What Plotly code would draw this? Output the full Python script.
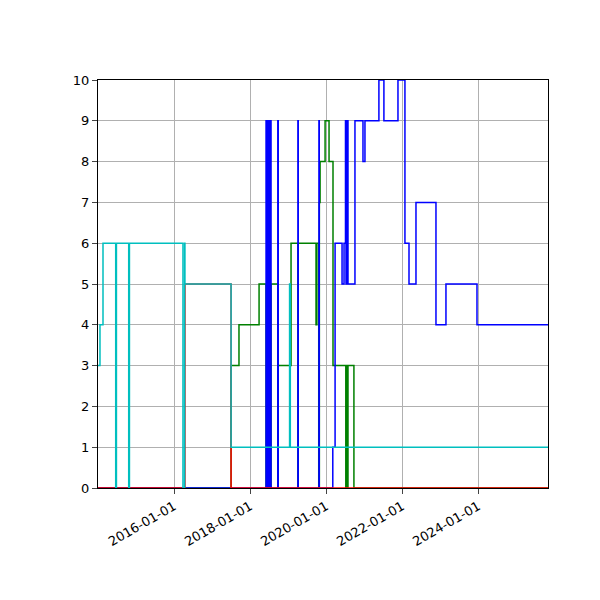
import plotly.graph_objects as go

red_x = ["2014-01-01", "2016-04-15", "2017-07-02", "2025-11-01"]
red_y = [0, 5, 0, 0]

cyan_x = ["2014-01-01", "2014-01-20", "2014-02-18", "2014-06-20", "2014-06-27",
          "2014-10-23", "2014-10-30", "2016-03-27", "2016-04-12", "2016-04-15",
          "2017-07-02", "2019-01-15", "2019-01-22", "2025-11-01"]
cyan_y = [3, 4, 6, 0, 6, 0, 6, 0, 6, 5, 1, 5, 1, 1]

green_x = ["2014-01-01", "2017-07-02", "2017-09-16", "2018-03-28", "2018-06-03",
           "2018-06-10", "2018-06-17", "2018-06-24", "2018-07-01", "2018-07-08",
           "2018-07-14", "2018-07-21", "2018-09-24", "2018-09-28", "2019-01-29",
           "2019-04-05", "2019-04-08", "2019-09-26", "2019-10-04", "2019-10-22",
           "2019-10-28", "2019-11-04", "2019-12-22", "2020-01-29", "2020-03-07",
           "2020-03-27", "2020-07-08", "2020-07-13", "2020-07-20", "2020-07-29",
           "2020-09-24", "2025-11-01"]
green_y = [0, 3, 4, 5, 0, 5, 0, 5, 0, 5, 0, 5, 0, 3, 6,
           0, 6, 4, 6, 0, 7, 8, 9, 8, 3,
           3, 0, 3, 0, 3, 0, 0]

blue_x = ["2014-01-01", "2018-06-03", "2018-06-10", "2018-06-17", "2018-06-24",
          "2018-07-01", "2018-07-08", "2018-07-14", "2018-07-21", "2018-09-24",
          "2018-09-28", "2019-04-05", "2019-04-08", "2019-10-24", "2019-10-27",
          "2020-03-05", "2020-03-27", "2020-06-02", "2020-06-21", "2020-07-05",
          "2020-07-10", "2020-07-18", "2020-07-29", "2020-10-04", "2020-12-20",
          "2021-01-08", "2021-05-22", "2021-07-09", "2021-11-21", "2022-01-27",
          "2022-03-07", "2022-05-13", "2022-11-21", "2023-02-25", "2023-12-20",
          "2025-11-01"]
blue_y = [0, 9, 0, 9, 0, 9, 0, 9, 0, 9, 0, 9, 0, 9, 0,
          1, 6, 5, 6, 9, 5, 9, 5, 9, 8,
          9, 10, 9, 10, 6, 5, 7, 4, 5, 4, 4]

tick_vals = ["2016-01-01", "2018-01-01", "2020-01-01", "2022-01-01", "2024-01-01"]

fig = go.Figure()
for xs, ys, col in [(green_x, green_y, "green"), (blue_x, blue_y, "blue"),
                    (red_x, red_y, "red"), (cyan_x, cyan_y, "#00bfbf")]:
    fig.add_trace(go.Scatter(x=xs, y=ys, mode="lines", line=dict(color=col, width=1.5, shape="hv"),
                             showlegend=False, cliponaxis=False))

fig.update_layout(
    width=600, height=600,
    paper_bgcolor="white", plot_bgcolor="white",
    font=dict(family="DejaVu Sans", size=13, color="black"),
    margin=dict(l=90, r=60, t=72, b=120),
)
fig.update_xaxes(
    range=["2014-01-01", "2025-11-01"], tickvals=tick_vals, ticktext=tick_vals,
    tickangle=-30, showgrid=True, gridcolor="#b0b0b0", showline=True, linecolor="black",
    mirror=True, ticks="outside", zeroline=False, automargin=False,
)
fig.update_yaxes(
    range=[0, 10], dtick=1, showgrid=True, gridcolor="#b0b0b0", showline=True,
    linecolor="black", mirror=True, ticks="outside", zeroline=False, automargin=False,
)

fig.write_html("out.html")
